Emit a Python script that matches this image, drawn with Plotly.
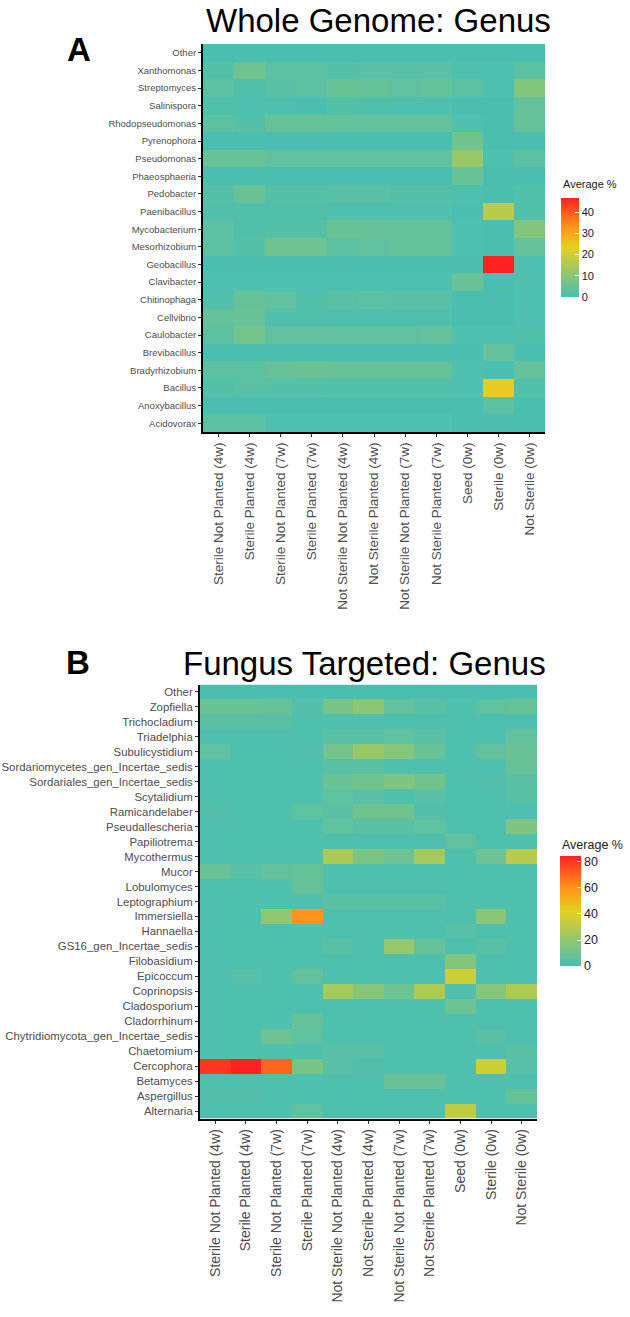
import plotly.graph_objects as go

FONT = "Liberation Sans, Arial, Helvetica, sans-serif"

conditions = [
    "Sterile Not Planted (4w)", "Sterile Planted (4w)", "Sterile Not Planted (7w)",
    "Sterile Planted (7w)", "Not Sterile Not Planted (4w)", "Not Sterile Planted (4w)",
    "Not Sterile Not Planted (7w)", "Not Sterile Planted (7w)", "Seed (0w)",
    "Sterile (0w)", "Not Sterile (0w)",
]

# Panel A: Whole Genome (rows listed top -> bottom as displayed)
genome_genera = [
    "Other", "Xanthomonas", "Streptomyces", "Salinispora", "Rhodopseudomonas",
    "Pyrenophora", "Pseudomonas", "Phaeosphaeria", "Pedobacter", "Paenibacillus",
    "Mycobacterium", "Mesorhizobium", "Geobacillus", "Clavibacter", "Chitinophaga",
    "Cellvibrio", "Caulobacter", "Brevibacillus", "Bradyrhizobium", "Bacillus",
    "Anoxybacillus", "Acidovorax",
]
genome_values = [
    [0.5, 0.5, 0.5, 0.5, 0.5, 0.5, 0.5, 0.5, 0.5, 0.5, 0.5],   # Other
    [2.0, 6.0, 3.0, 3.0, 2.0, 2.5, 2.5, 2.5, 1.0, 1.0, 3.0],   # Xanthomonas
    [3.0, 1.5, 2.5, 3.0, 5.0, 4.5, 3.5, 4.0, 3.0, 1.0, 9.0],   # Streptomyces
    [1.5, 1.0, 1.0, 0.5, 2.0, 1.5, 1.0, 1.0, 0.5, 0.5, 4.0],   # Salinispora
    [3.0, 2.0, 4.5, 4.5, 4.0, 4.0, 4.0, 4.0, 1.0, 0.5, 4.5],   # Rhodopseudomonas
    [0.5, 0.5, 0.5, 0.5, 0.5, 0.5, 0.5, 0.5, 6.0, 0.5, 0.5],   # Pyrenophora
    [5.0, 5.0, 3.5, 3.5, 3.5, 3.5, 3.5, 3.5, 12.0, 1.0, 3.0],  # Pseudomonas
    [0.5, 0.5, 0.5, 0.5, 0.5, 0.5, 0.5, 0.5, 5.0, 0.5, 0.5],   # Phaeosphaeria
    [2.0, 5.0, 2.0, 2.0, 2.5, 2.5, 2.0, 2.0, 1.0, 0.5, 1.5],   # Pedobacter
    [1.5, 1.5, 1.5, 1.5, 1.0, 1.0, 1.0, 1.0, 0.5, 17.0, 1.5],  # Paenibacillus
    [3.0, 1.5, 2.0, 2.0, 5.0, 4.5, 4.0, 4.0, 1.0, 0.5, 9.0],   # Mycobacterium
    [3.0, 2.0, 5.5, 5.5, 3.0, 3.5, 4.0, 4.0, 1.0, 0.5, 4.0],   # Mesorhizobium
    [0.5, 0.5, 0.5, 0.5, 0.5, 0.5, 0.5, 0.5, 0.5, 46.7, 1.0],  # Geobacillus
    [1.0, 1.0, 1.0, 1.0, 1.0, 1.0, 1.0, 1.0, 5.0, 0.5, 1.0],   # Clavibacter
    [1.5, 4.5, 3.5, 1.5, 2.5, 3.0, 2.5, 2.5, 0.5, 0.5, 1.0],   # Chitinophaga
    [4.5, 5.0, 1.5, 1.5, 1.0, 1.0, 1.0, 1.0, 0.5, 0.5, 1.0],   # Cellvibrio
    [3.0, 6.5, 3.5, 3.5, 3.5, 3.5, 3.5, 4.0, 1.0, 1.0, 1.5],   # Caulobacter
    [0.5, 0.5, 0.5, 0.5, 0.5, 0.5, 0.5, 0.5, 0.5, 4.0, 0.5],   # Brevibacillus
    [3.0, 3.0, 4.5, 5.0, 4.5, 4.5, 4.5, 4.5, 1.0, 0.5, 4.0],   # Bradyrhizobium
    [2.0, 2.5, 2.0, 2.0, 1.5, 1.5, 1.5, 1.5, 1.0, 24.0, 1.5],  # Bacillus
    [0.5, 0.5, 0.5, 0.5, 0.5, 0.5, 0.5, 0.5, 0.5, 3.0, 0.5],   # Anoxybacillus
    [3.0, 3.0, 1.0, 1.0, 1.0, 1.0, 1.0, 1.0, 0.5, 0.5, 0.5],   # Acidovorax
]

# Panel B: Fungus Targeted (rows listed top -> bottom as displayed)
fungus_genera = [
    "Other", "Zopfiella", "Trichocladium", "Triadelphia", "Subulicystidium",
    "Sordariomycetes_gen_Incertae_sedis", "Sordariales_gen_Incertae_sedis",
    "Scytalidium", "Ramicandelaber", "Pseudallescheria", "Papiliotrema",
    "Mycothermus", "Mucor", "Lobulomyces", "Leptographium", "Immersiella",
    "Hannaella", "GS16_gen_Incertae_sedis", "Filobasidium", "Epicoccum",
    "Coprinopsis", "Cladosporium", "Cladorrhinum",
    "Chytridiomycota_gen_Incertae_sedis", "Chaetomium", "Cercophora",
    "Betamyces", "Aspergillus", "Alternaria",
]
fungus_values = [
    [1.0, 1.0, 1.0, 1.0, 1.0, 1.0, 1.0, 1.0, 1.0, 1.0, 1.0],     # Other
    [9.0, 9.0, 8.0, 3.0, 13.0, 18.0, 7.0, 5.0, 2.0, 6.0, 8.0],   # Zopfiella
    [5.0, 5.0, 5.0, 2.0, 2.0, 2.0, 2.0, 2.0, 2.0, 1.5, 1.5],     # Trichocladium
    [2.0, 2.0, 2.0, 2.0, 5.0, 5.0, 6.0, 5.0, 2.0, 2.0, 7.0],     # Triadelphia
    [6.0, 2.0, 2.0, 3.0, 12.0, 22.0, 17.0, 9.0, 2.0, 7.0, 9.0],  # Subulicystidium
    [2.0, 2.0, 2.0, 2.0, 5.0, 5.0, 2.0, 2.0, 2.0, 2.0, 9.0],     # Sordariomycetes
    [2.0, 2.0, 2.0, 2.0, 9.0, 11.0, 15.0, 11.0, 2.0, 3.0, 5.0],  # Sordariales
    [2.0, 2.0, 2.0, 2.0, 6.0, 4.0, 2.0, 4.0, 2.0, 2.0, 5.0],     # Scytalidium
    [3.0, 2.0, 2.0, 6.0, 5.0, 11.0, 11.0, 3.0, 2.0, 2.0, 1.5],   # Ramicandelaber
    [2.0, 2.0, 2.0, 2.0, 6.0, 5.0, 5.0, 6.0, 2.0, 2.0, 15.0],    # Pseudallescheria
    [2.0, 2.0, 2.0, 2.0, 2.0, 2.0, 2.0, 2.0, 7.0, 2.0, 2.0],     # Papiliotrema
    [2.0, 2.0, 2.0, 2.0, 27.0, 14.0, 10.0, 25.0, 2.0, 10.0, 30.0],  # Mycothermus
    [9.0, 4.0, 7.0, 8.0, 2.0, 2.0, 2.0, 2.0, 2.0, 2.0, 2.0],     # Mucor
    [2.0, 2.0, 2.0, 8.0, 2.0, 2.0, 2.0, 2.0, 2.0, 2.0, 2.0],     # Lobulomyces
    [2.0, 2.0, 2.0, 2.0, 5.0, 5.0, 5.0, 5.0, 2.0, 2.0, 2.0],     # Leptographium
    [2.0, 2.0, 20.0, 60.0, 2.0, 2.0, 2.0, 2.0, 2.0, 18.0, 2.0],  # Immersiella
    [2.0, 2.0, 2.0, 2.0, 2.0, 2.0, 2.0, 2.0, 4.0, 2.0, 2.0],     # Hannaella
    [2.0, 2.0, 2.0, 2.0, 5.0, 2.0, 21.0, 8.0, 2.0, 5.0, 2.0],    # GS16
    [2.0, 2.0, 2.0, 2.0, 2.0, 2.0, 2.0, 2.0, 16.0, 2.0, 2.0],    # Filobasidium
    [2.0, 4.0, 2.0, 7.0, 2.0, 2.0, 2.0, 2.0, 36.0, 2.0, 2.0],    # Epicoccum
    [2.0, 2.0, 2.0, 2.0, 25.0, 17.0, 10.0, 28.0, 2.0, 17.0, 28.0],  # Coprinopsis
    [2.0, 2.0, 2.0, 1.5, 2.0, 2.0, 2.0, 2.0, 10.0, 2.0, 2.0],    # Cladosporium
    [2.0, 2.0, 2.0, 8.0, 2.0, 2.0, 2.0, 2.0, 2.0, 2.0, 2.0],     # Cladorrhinum
    [2.0, 2.0, 10.0, 6.0, 2.0, 2.0, 2.0, 2.0, 2.0, 5.0, 2.0],    # Chytridiomycota
    [2.0, 2.0, 2.0, 2.0, 4.0, 4.0, 2.0, 2.0, 2.0, 2.0, 5.0],     # Chaetomium
    [80.0, 84.6, 70.0, 13.0, 4.0, 3.0, 2.0, 2.0, 2.0, 36.0, 4.0],  # Cercophora
    [2.0, 2.0, 2.0, 2.0, 2.0, 2.0, 9.0, 9.0, 2.0, 2.0, 2.0],     # Betamyces
    [3.0, 3.0, 2.0, 2.0, 2.0, 2.0, 2.0, 2.0, 2.0, 2.0, 8.0],     # Aspergillus
    [2.0, 2.0, 2.0, 6.0, 2.0, 2.0, 2.0, 2.0, 32.0, 2.0, 2.0],    # Alternaria
]

genome_ticks = [0, 10, 20, 30, 40]
fungus_ticks = [0, 20, 40, 60, 80]

colorscale = [
    [0.0, "rgb(72,190,181)"],
    [0.5, "rgb(228,208,32)"],
    [0.72, "rgb(255,145,25)"],
    [1.0, "rgb(255,32,32)"],
]

W, H = 630, 1317


def px_x(v):
    return v / W


def px_y(v):
    return 1 - v / H


fig = go.Figure()

fig.add_trace(go.Heatmap(
    z=genome_values, x=conditions, y=genome_genera,
    xaxis="x", yaxis="y",
    colorscale=colorscale, zmin=0, zmax=max(max(r) for r in genome_values),
    hoverinfo="skip",
    colorbar=dict(
        x=px_x(561), xanchor="left", xpad=0,
        y=px_y(247.5), yanchor="middle", ypad=0,
        len=99, lenmode="pixels", thickness=18, thicknessmode="pixels",
        outlinewidth=0, tickvals=genome_ticks, ticks="inside", tickcolor="white",
        ticklen=4, tickfont=dict(size=11, color="#1a1a1a", family=FONT),
    ),
))

fig.add_trace(go.Heatmap(
    z=fungus_values, x=conditions, y=fungus_genera,
    xaxis="x2", yaxis="y2",
    colorscale=colorscale, zmin=0, zmax=max(max(r) for r in fungus_values),
    hoverinfo="skip",
    colorbar=dict(
        x=px_x(560), xanchor="left", xpad=0,
        y=px_y(911), yanchor="middle", ypad=0,
        len=110, lenmode="pixels", thickness=21, thicknessmode="pixels",
        outlinewidth=0, tickvals=fungus_ticks, ticks="inside", tickcolor="white",
        ticklen=4, tickfont=dict(size=12.5, color="#1a1a1a", family=FONT),
    ),
))

axis_common = dict(
    showgrid=False, zeroline=False, showline=True, linecolor="black", linewidth=2,
    ticks="outside", ticklen=3, tickwidth=1.2, tickcolor="#333333",
    type="category",
)

fig.update_layout(
    width=W, height=H,
    margin=dict(l=0, r=0, t=0, b=0),
    paper_bgcolor="white", plot_bgcolor="white",
    font=dict(family=FONT, color="#4d4d4d"),
    xaxis=dict(domain=[px_x(203), px_x(545)], anchor="y", tickangle=-90,
               tickfont=dict(size=13.5, color="#4d4d4d"), **axis_common),
    yaxis=dict(domain=[px_y(432), px_y(44)], anchor="x", autorange="reversed",
               tickfont=dict(size=9.5, color="#4d4d4d"), **axis_common),
    xaxis2=dict(domain=[px_x(200), px_x(537)], anchor="y2", tickangle=-90,
                tickfont=dict(size=14, color="#4d4d4d"), **axis_common),
    yaxis2=dict(domain=[px_y(1118.5), px_y(684.5)], anchor="x2", autorange="reversed",
                tickfont=dict(size=11.4, color="#4d4d4d"), **axis_common),
    annotations=[
        dict(text="Whole Genome: Genus", x=px_x(378), y=px_y(21), xref="paper", yref="paper",
             xanchor="center", yanchor="middle", showarrow=False,
             font=dict(size=33, color="black", family=FONT)),
        dict(text="<b>A</b>", x=px_x(79), y=px_y(49), xref="paper", yref="paper",
             xanchor="center", yanchor="middle", showarrow=False,
             font=dict(size=33, color="black", family=FONT)),
        dict(text="Fungus Targeted: Genus", x=px_x(364.5), y=px_y(663), xref="paper", yref="paper",
             xanchor="center", yanchor="middle", showarrow=False,
             font=dict(size=33, color="black", family=FONT)),
        dict(text="<b>B</b>", x=px_x(78), y=px_y(662), xref="paper", yref="paper",
             xanchor="center", yanchor="middle", showarrow=False,
             font=dict(size=33, color="black", family=FONT)),
        dict(text="Average %", x=px_x(561), y=px_y(184), xref="paper", yref="paper",
             xanchor="left", yanchor="middle", showarrow=False,
             font=dict(size=11, color="#1a1a1a", family=FONT)),
        dict(text="Average %", x=px_x(560), y=px_y(845), xref="paper", yref="paper",
             xanchor="left", yanchor="middle", showarrow=False,
             font=dict(size=12.5, color="#1a1a1a", family=FONT)),
    ],
)

fig.write_html("out.html")
